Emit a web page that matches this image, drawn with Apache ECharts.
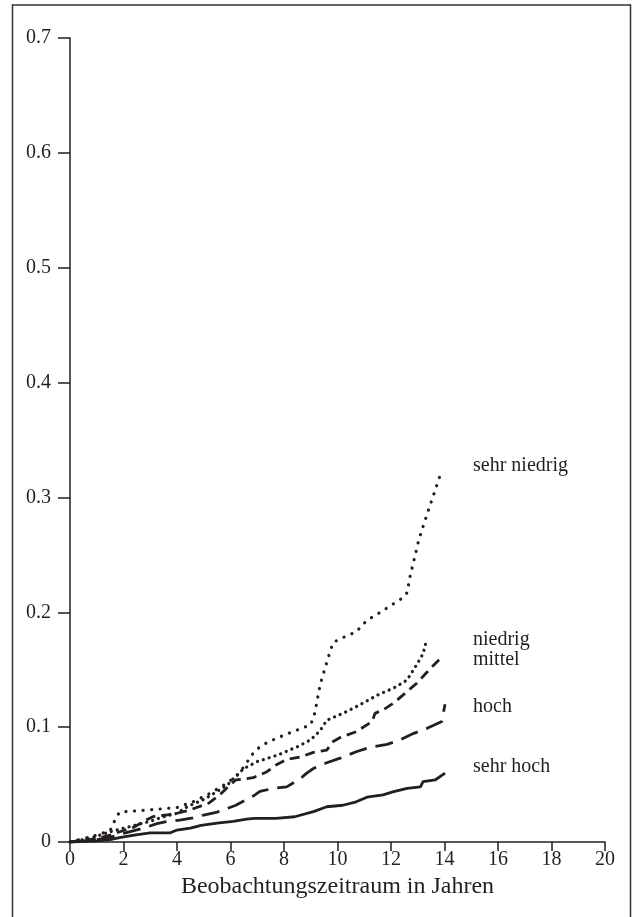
<!DOCTYPE html>
<html>
<head>
<meta charset="utf-8">
<script src="https://cdn.jsdelivr.net/npm/echarts@6/dist/echarts.min.js"></script>
<style>
html,body{margin:0;padding:0;background:#fff;}
#chart{width:632px;height:917px;}
</style>
</head>
<body>
<div id="chart"></div>
<script>
// Data (x: years, y: cumulative value)
var sehrNiedrig = [[0,0],[0.5,0.003],[1.0,0.006],[1.5,0.01],[1.7,0.02],[1.85,0.026],[3.0,0.028],[4.0,0.03],[4.6,0.035],[5.2,0.042],[5.85,0.051],[6.25,0.058],[6.55,0.067],[6.8,0.076],[7.1,0.083],[7.4,0.087],[8.1,0.094],[9.0,0.102],[9.15,0.112],[9.35,0.137],[9.75,0.168],[9.85,0.174],[10.3,0.179],[10.7,0.183],[11.1,0.193],[11.6,0.2],[12.4,0.212],[12.6,0.217],[12.7,0.23],[13.05,0.264],[13.4,0.289],[13.85,0.32]];
var niedrig = [[0,0],[0.5,0.002],[1,0.005],[1.5,0.009],[2,0.012],[2.5,0.015],[3,0.018],[3.5,0.022],[4,0.025],[4.4,0.031],[5,0.037],[5.5,0.044],[5.9,0.05],[6.1,0.055],[6.5,0.064],[7,0.07],[7.8,0.076],[8.5,0.083],[9,0.089],[9.35,0.097],[9.6,0.106],[10.2,0.112],[10.8,0.119],[11.5,0.128],[12.1,0.134],[12.6,0.141],[12.95,0.154],[13.2,0.164],[13.33,0.176]];
var mittel = [[0,0],[0.5,0.001],[1,0.003],[1.5,0.006],[2,0.01],[2.4,0.013],[2.75,0.018],[3.1,0.022],[3.6,0.0235],[4.0,0.025],[4.5,0.028],[5.2,0.034],[5.6,0.041],[5.9,0.048],[6.2,0.054],[6.85,0.056],[7.35,0.061],[7.7,0.067],[8.1,0.072],[8.6,0.074],[9.1,0.078],[9.6,0.08],[9.8,0.087],[10.1,0.091],[10.7,0.096],[11.3,0.105],[11.4,0.112],[11.7,0.115],[12.1,0.121],[12.6,0.131],[12.95,0.138],[13.35,0.148],[13.85,0.16]];
var hoch = [[0,0],[0.5,0.001],[1,0.002],[1.5,0.004],[2,0.0075],[2.5,0.0105],[2.9,0.0133],[3.25,0.016],[3.6,0.0177],[4.1,0.019],[4.6,0.021],[5,0.0235],[5.5,0.026],[5.85,0.029],[6.2,0.032],[6.6,0.037],[6.85,0.04],[7.1,0.044],[7.6,0.0467],[8.1,0.048],[8.6,0.055],[8.85,0.06],[9.1,0.064],[9.6,0.069],[10.1,0.073],[10.7,0.0786],[11.2,0.0824],[11.85,0.085],[12.35,0.089],[12.85,0.0946],[13.35,0.099],[13.9,0.105],[14.02,0.12]];
var sehrHoch = [[0,0],[1,0.001],[1.5,0.002],[1.9,0.004],[2.4,0.006],[3,0.008],[3.75,0.008],[4,0.0104],[4.5,0.012],[4.9,0.0145],[5.5,0.0165],[6.1,0.018],[6.6,0.02],[6.9,0.0206],[7.7,0.0206],[8.4,0.022],[9.1,0.0264],[9.6,0.0307],[10.2,0.032],[10.7,0.035],[11.1,0.039],[11.7,0.041],[12.1,0.0438],[12.6,0.0467],[13.1,0.048],[13.2,0.0525],[13.65,0.054],[14.02,0.06]];
var seriesNames = ['sehr niedrig','niedrig','mittel','hoch','sehr hoch'];
var xTitle = 'Beobachtungszeitraum in Jahren';
var xMin = 0, xMax = 20, xStep = 2;
var yMin = 0, yMax = 0.7, yStep = 0.1;

var FONT = '"Liberation Serif","DejaVu Serif",serif';
var INK = '#231f20';
var chart = echarts.init(document.getElementById('chart'), null, {renderer:'canvas'});

function mk(name, data, dash, cap, w){
  return {
    name: name, type: 'line', data: data, symbol: 'none', silent: true,
    lineStyle: {color: INK, width: w || 2.8, type: dash, cap: cap || 'butt'}
  };
}

var option = {
  backgroundColor: '#fff',
  animation: false,
  grid: {left: 70, right: 27, top: 38, bottom: 75},
  xAxis: {
    type: 'value', min: xMin, max: xMax, interval: xStep,
    name: xTitle, nameLocation: 'middle', nameGap: 32,
    nameTextStyle: {fontFamily: FONT, fontSize: 24, color: INK},
    axisLine: {lineStyle: {color: INK, width: 1.5}},
    axisTick: {length: 9, lineStyle: {color: INK, width: 1.5}},
    axisLabel: {fontFamily: FONT, fontSize: 20, color: INK, margin: 8},
    splitLine: {show: false}
  },
  yAxis: {
    type: 'value', min: yMin, max: yMax, interval: yStep,
    axisLine: {show: true, lineStyle: {color: INK, width: 1.5}},
    axisTick: {show: true, length: 12, lineStyle: {color: INK, width: 1.5}},
    axisLabel: {fontFamily: FONT, fontSize: 20, color: INK, margin: 19,
      formatter: function(v){ return v === 0 ? '0' : v.toFixed(1); }},
    splitLine: {show: false}
  },
  series: [
    mk(seriesNames[0], sehrNiedrig, [0.1, 8.5], 'round', 3.2),
    mk(seriesNames[1], niedrig, [0.1, 6], 'round', 3.2),
    mk(seriesNames[2], mittel, [10, 6]),
    mk(seriesNames[3], hoch, [18, 9]),
    mk(seriesNames[4], sehrHoch, 'solid')
  ],
  graphic: [
    {type: 'rect', shape: {x: 12.5, y: 5, width: 618, height: 930},
     style: {fill: 'none', stroke: '#333', lineWidth: 1.5}, silent: true, z: 100},
    {type: 'text', left: 473, top: 456, style: {text: seriesNames[0], font: '20px ' + FONT, fill: INK}},
    {type: 'text', left: 473, top: 630, style: {text: seriesNames[1], font: '20px ' + FONT, fill: INK}},
    {type: 'text', left: 473, top: 650, style: {text: seriesNames[2], font: '20px ' + FONT, fill: INK}},
    {type: 'text', left: 473, top: 697, style: {text: seriesNames[3], font: '20px ' + FONT, fill: INK}},
    {type: 'text', left: 473, top: 757, style: {text: seriesNames[4], font: '20px ' + FONT, fill: INK}}
  ]
};
chart.setOption(option);
</script>
</body>
</html>
